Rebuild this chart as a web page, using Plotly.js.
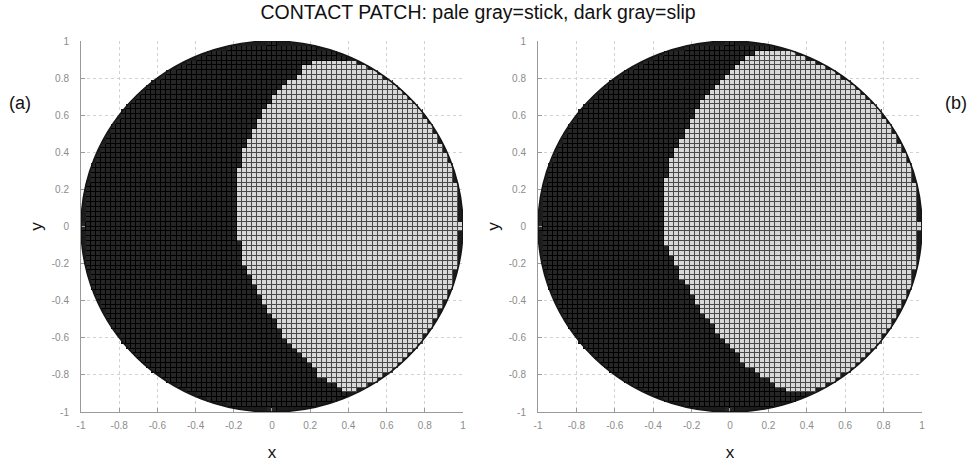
<!DOCTYPE html>
<html><head><meta charset="utf-8">
<script src="https://cdn.plot.ly/plotly-3.0.1.min.js"></script>
<style>html,body{margin:0;padding:0;background:#fff}#chart{width:974px;height:468px}</style>
</head><body><div id="chart"></div>
<script>
const TITLE = 'CONTACT PATCH: pale gray=stick, dark gray=slip';
const panelLabels = ['(a)', '(b)'];
const tickVals = [-1, -0.8, -0.6, -0.4, -0.2, 0, 0.2, 0.4, 0.6, 0.8, 1];
const tickText = ['-1', '-0.8', '-0.6', '-0.4', '-0.2', '0', '0.2', '0.4', '0.6', '0.8', '1'];
const gridN = 76; // cells across the contact patch diameter

// left edge (x) of the stick zone for each grid row, top row (y~0.99) to bottom row (y~-0.99); null = whole row slips
const stickEdgeA = [null, null, null, null,
  0.20, 0.17, 0.15, 0.12, 0.08, 0.06, 0.03, 0.01, -0.01, -0.025,
  -0.04, -0.06, -0.075, -0.09, -0.10, -0.11, -0.12, -0.13, -0.145, -0.155,
  -0.165, -0.17, -0.175, -0.18, -0.18, -0.18, -0.185, -0.185, -0.185, -0.185,
  -0.185, -0.185, -0.185, -0.185, -0.185, -0.18, -0.175, -0.17, -0.165, -0.16,
  -0.155, -0.145, -0.135, -0.125, -0.11, -0.10, -0.09, -0.075, -0.06, -0.045,
  -0.03, -0.015, 0.0, 0.015, 0.03, 0.05, 0.065, 0.09, 0.11, 0.135,
  0.16, 0.18, 0.20, 0.225, 0.25, 0.29, 0.33, 0.37,
  null, null, null, null];

const stickEdgeB = [null, null,
  0.12, 0.08, 0.05, 0.025, 0.0, -0.02, -0.05, -0.08, -0.10, -0.125,
  -0.145, -0.165, -0.18, -0.19, -0.205, -0.215, -0.23, -0.24, -0.25, -0.265,
  -0.28, -0.295, -0.305, -0.31, -0.32, -0.325, -0.33, -0.33, -0.335, -0.335,
  -0.34, -0.34, -0.34, -0.34, -0.34, -0.34, -0.34, -0.34, -0.335, -0.33,
  -0.32, -0.31, -0.30, -0.29, -0.275, -0.265, -0.25, -0.235, -0.22, -0.205,
  -0.19, -0.175, -0.16, -0.145, -0.125, -0.105, -0.09, -0.07, -0.05, -0.03,
  -0.005, 0.02, 0.04, 0.065, 0.09, 0.125, 0.16, 0.20, 0.245, 0.30,
  null, null, null, null];

const cell = 2 / gridN;
function inside(x, y) { return x * x + y * y <= 1; }
function buildZ(edges) {
  const z = [];
  for (let r = gridN - 1; r >= 0; r--) {
    const yc = 1 - (r + 0.5) * cell;
    const row = [];
    for (let c = 0; c < gridN; c++) {
      const xc = -1 + (c + 0.5) * cell;
      const h = cell / 2;
      // keep cells lying inside the contact circle
      const n = [inside(xc - h, yc - h), inside(xc + h, yc - h), inside(xc - h, yc + h), inside(xc + h, yc + h)]
        .filter(Boolean).length;
      if (n < 3) { row.push(null); continue; }
      const e = edges[r];
      row.push(e !== null && xc >= e ? 1 : 0);
    }
    z.push(row);
  }
  return z;
}

const lineScale = [[0, '#000000'], [0.5, '#000000'], [0.5, '#4a4a4a'], [1, '#4a4a4a']];
const cellScale = [[0, '#262626'], [0.5, '#262626'], [0.5, '#d8d8d8'], [1, '#d8d8d8']];

const traces = [];
[[stickEdgeA, 'x', 'y'], [stickEdgeB, 'x2', 'y2']].forEach(([edges, xa, ya]) => {
  const z = buildZ(edges);
  const common = {type: 'heatmap', z: z, x0: -1 + cell / 2, dx: cell, y0: -1 + cell / 2, dy: cell,
    zmin: 0, zmax: 1, showscale: false, hoverinfo: 'skip', xaxis: xa, yaxis: ya};
  traces.push(Object.assign({}, common, {colorscale: lineScale}));
  traces.push(Object.assign({}, common, {colorscale: cellScale, xgap: 1, ygap: 1}));
});

const axisBase = {
  range: [-1, 1], tickmode: 'array', tickvals: tickVals, ticktext: tickText,
  ticks: 'inside', ticklen: 4, tickcolor: '#9a9a9a', showline: true, linecolor: '#9a9a9a', linewidth: 1,
  showgrid: true, gridcolor: '#d2d2d2', griddash: 'dot', gridwidth: 1, zeroline: false,
  tickfont: {family: 'Liberation Sans, Arial, sans-serif', size: 10, color: '#8c8c8c'},
  fixedrange: true
};
const titleFont = {family: 'Liberation Sans, Arial, sans-serif', size: 17, color: '#111'};
function ax(extra, title, standoff) {
  return Object.assign({}, axisBase, extra, {title: {text: title, font: titleFont, standoff: standoff}});
}

const circ = (xr, yr, layer, fill, lw) => ({type: 'circle', xref: xr, yref: yr, x0: -1, x1: 1, y0: -1, y1: 1,
  layer: layer, fillcolor: fill, line: {color: '#141414', width: lw}});

const layout = {
  width: 974, height: 468,
  margin: {l: 81, r: 52, t: 41, b: 56},
  paper_bgcolor: '#fff', plot_bgcolor: '#fff',
  showlegend: false,
  title: {text: TITLE, x: 0.4908, xanchor: 'center', xref: 'container', y: 1 - 12 / 468, yref: 'container', yanchor: 'middle',
    font: {family: 'Liberation Sans, Arial, sans-serif', size: 19.5, color: '#111'}},
  xaxis: ax({domain: [0, 0.4542], anchor: 'y', ticklabelstandoff: 4}, 'x', 16),
  yaxis: ax({domain: [0, 1], anchor: 'x', ticklabelstandoff: 9}, 'y', 4),
  xaxis2: ax({domain: [0.5434, 1], anchor: 'y2', ticklabelstandoff: 4}, 'x', 16),
  yaxis2: ax({domain: [0, 1], anchor: 'x2', ticklabelstandoff: 9}, 'y', 4),
  shapes: [
    circ('x', 'y', 'between', '#1c1c1c', 0),
    circ('x2', 'y2', 'between', '#1c1c1c', 0),
    circ('x', 'y', 'above', 'rgba(0,0,0,0)', 1.5),
    circ('x2', 'y2', 'above', 'rgba(0,0,0,0)', 1.5)
  ],
  annotations: [
    {text: panelLabels[0], xref: 'paper', yref: 'paper', x: (20 - 81) / 841, y: (412 - 103) / 371,
      showarrow: false, xanchor: 'center', yanchor: 'middle', font: {family: 'Liberation Sans, Arial, sans-serif', size: 18, color: '#111'}},
    {text: panelLabels[1], xref: 'paper', yref: 'paper', x: (956 - 81) / 841, y: (412 - 103) / 371,
      showarrow: false, xanchor: 'center', yanchor: 'middle', font: {family: 'Liberation Sans, Arial, sans-serif', size: 18, color: '#111'}}
  ]
};

Plotly.newPlot('chart', traces, layout, {staticPlot: true, displayModeBar: false});
</script>
</body></html>
